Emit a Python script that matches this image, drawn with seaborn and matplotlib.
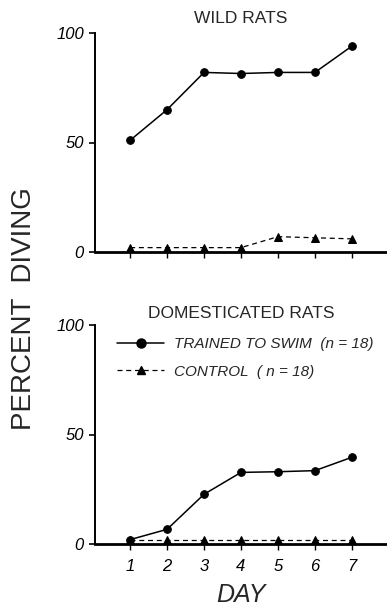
import numpy as np
import pandas as pd
import matplotlib
matplotlib.use("Agg")
import matplotlib.pyplot as plt
import seaborn as sns
from matplotlib.lines import Line2D

# %% data
days = [1, 2, 3, 4, 5, 6, 7]
wild_trained = [51, 65, 82, 81.5, 82, 82, 94]
wild_control = [2, 2, 2, 2, 7, 6.5, 6]
dom_trained = [2, 6.7, 22.7, 32.7, 33, 33.5, 39.6]
dom_control = [1.8, 1.8, 1.8, 1.8, 1.8, 1.8, 1.8]
panel_titles = ["WILD RATS", "DOMESTICATED RATS"]
legend_labels = ["TRAINED TO SWIM  (n = 18)", "CONTROL  ( n = 18)"]

sns.set_style("white")
plt.rcParams["font.family"] = ["Liberation Sans", "DejaVu Sans"]

fig = plt.figure(figsize=(3.87, 6.12), dpi=100)
ax1 = fig.add_axes([95/387, 1-252/612, 1-95/387, 219/612])
ax2 = fig.add_axes([95/387, 1-544/612, 1-95/387, 219/612])

panels = [(ax1, wild_trained, wild_control), (ax2, dom_trained, dom_control)]
for i, (ax, tr, ct) in enumerate(panels):
    sns.lineplot(x=days, y=tr, ax=ax, color="black", marker="o", markersize=5.5,
                 markeredgecolor="black", linewidth=1.1, clip_on=False)
    sns.lineplot(x=days, y=ct, ax=ax, color="black", marker="^", markersize=5.5,
                 markeredgecolor="black", linewidth=0.9, linestyle=(0, (4, 3)), clip_on=False)
    ax.set_xlim(0.05, 7.95)
    ax.set_ylim(0, 100)
    ax.set_yticks([0, 50, 100])
    ax.set_xticks(days)
    for s in ["top", "right"]:
        ax.spines[s].set_visible(False)
    ax.spines["bottom"].set_linewidth(2)
    ax.spines["left"].set_linewidth(1.4)
    ax.spines["left"].set_color("black")
    ax.spines["bottom"].set_color("black")
    ax.tick_params(axis="y", direction="out", length=4, width=1.2, pad=4,
                   labelsize=12, left=True, colors="black")
    ax.tick_params(axis="x", direction="out", length=4, width=1, pad=7,
                   labelsize=12, bottom=True, colors="black")
    ax.set_title(panel_titles[i], fontsize=12.5, pad=7 if i == 0 else 5)
    ax.grid(False)
    for lab in ax.get_yticklabels():
        lab.set_style("italic")

ax1.set_xticklabels([])
for lab in ax2.get_xticklabels():
    lab.set_style("italic")
ax2.set_xlabel("DAY", fontsize=18, style="italic", labelpad=6)

handles = [
    Line2D([], [], color="black", marker="o", markersize=6.5, linewidth=1.1),
    Line2D([], [], color="black", marker="^", markersize=5.5, linewidth=0.9, linestyle=(0, (4, 3))),
]
leg = ax2.legend(handles, legend_labels, loc="upper left", bbox_to_anchor=(0.075, 0.945),
                 frameon=False, fontsize=11, handlelength=3.1, handletextpad=0.65,
                 labelspacing=0.9, borderpad=0, borderaxespad=0)
for t in leg.get_texts():
    t.set_style("italic")

fig.text(0.062, 0.495, "PERCENT  DIVING", rotation=90, fontsize=20, va="center", ha="center")

fig.savefig("out.png", dpi=100)
